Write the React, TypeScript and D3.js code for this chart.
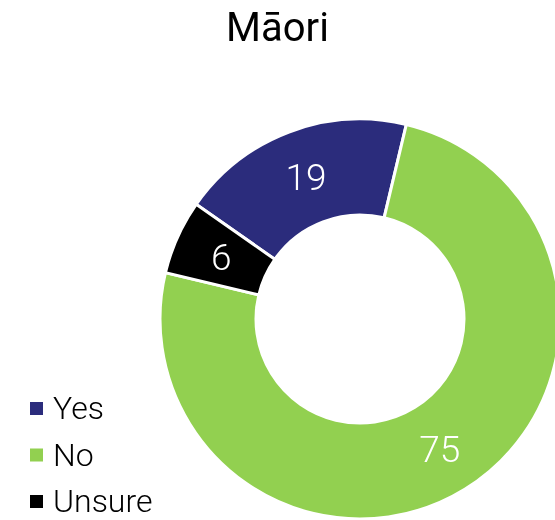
import React, { useRef, useEffect } from "react";
import * as d3 from "d3";

const categories = ["Yes", "No", "Unsure"];
const values = [19, 75, 6];
const colors = ["#2b2c7c", "#92d050", "#000000"];
const title = "Māori";

const App = () => {
  const ref = useRef<SVGSVGElement>(null);

  useEffect(() => {
    const width = 555;
    const height = 520;
    const outer = 200;
    const inner = 104;
    const cx = 360;
    const cy = 319;
    const startDeg = -55;

    const svg = d3.select(ref.current).attr("width", width).attr("height", height);
    svg.selectAll("*").remove();

    const data = categories.map((c, i) => ({ label: c, value: values[i] }));
    const color = d3.scaleOrdinal<string>().domain(categories).range(colors);

    const pie = d3
      .pie<{ label: string; value: number }>()
      .value((d) => d.value)
      .sort(null)
      .startAngle((startDeg * Math.PI) / 180)
      .endAngle((startDeg * Math.PI) / 180 + 2 * Math.PI);

    const arc = d3.arc<any>().outerRadius(outer).innerRadius(inner);
    const labelArc = d3.arc<any>().outerRadius(152).innerRadius(152);

    const g = svg.append("g").attr("transform", `translate(${cx}, ${cy})`);
    const arcs = pie(data);

    g.selectAll("path")
      .data(arcs)
      .enter()
      .append("path")
      .attr("d", arc)
      .attr("fill", (d) => color(d.data.label))
      .attr("stroke", "#ffffff")
      .style("stroke-width", "3px");

    g.selectAll("text")
      .data(arcs)
      .enter()
      .append("text")
      .attr("transform", (d) => `translate(${labelArc.centroid(d)})`)
      .attr("text-anchor", "middle")
      .attr("dy", "0.36em")
      .style("font-family", "Roboto")
      .style("font-weight", 300)
      .style("font-size", "37px")
      .style("fill", "#ffffff")
      .text((d) => d.data.value);

    svg
      .append("text")
      .attr("x", width / 2)
      .attr("y", 41)
      .attr("text-anchor", "middle")
      .style("font-family", "Roboto")
      .style("font-size", "40px")
      .style("fill", "#000000")
      .text(title);

    // legend, bottom left
    const legend = svg
      .append("g")
      .selectAll("g")
      .data(categories)
      .enter()
      .append("g")
      .attr("transform", (d, i) => `translate(30, ${419 + i * 46.5})`);

    legend
      .append("rect")
      .attr("x", 0)
      .attr("y", -17)
      .attr("width", 13)
      .attr("height", 13)
      .attr("fill", (d) => color(d));

    legend
      .append("text")
      .attr("x", 23)
      .attr("y", 0)
      .style("font-family", "Roboto")
      .style("font-weight", 300)
      .style("font-size", "32px")
      .style("fill", "#000000")
      .text((d) => d);
  }, []);

  return (
    <div style={{ position: "fixed", top: 0, left: 0, width: 555, height: 520, overflow: "hidden" }}>
      <svg ref={ref} style={{ display: "block" }}></svg>
    </div>
  );
};

export default App;
